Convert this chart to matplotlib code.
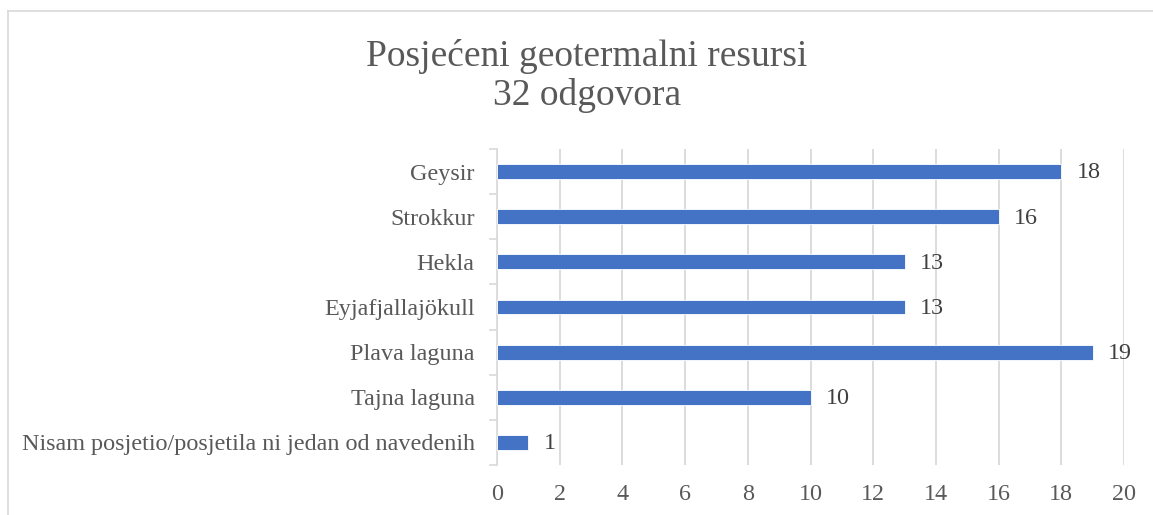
import numpy as np
import matplotlib.pyplot as plt
from matplotlib.lines import Line2D

# podaci
kategorije = ['Geysir', 'Strokkur', 'Hekla', 'Eyjafjallajökull', 'Plava laguna',
              'Tajna laguna', 'Nisam posjetio/posjetila ni jedan od navedenih']
odgovori = [18, 16, 13, 13, 19, 10, 1]
x_ticks = [0, 2, 4, 6, 8, 10, 12, 14, 16, 18, 20]

plt.rcParams['font.family'] = ['Liberation Serif', 'DejaVu Serif']
tekst = '#595959'
siva = '#D9D9D9'
fs = 17.4

fig = plt.figure(figsize=(11.53, 5.15), dpi=100)
ax = fig.add_axes([497 / 1153, 1 - 465 / 515, (1124 - 497) / 1153, (465 - 149) / 515])

y = np.arange(len(kategorije))
ax.barh(y, odgovori, height=0.33, color='#4472C4', edgecolor='white', linewidth=0.6, zorder=3)
for yi, v in zip(y, odgovori):
    ax.text(v + 0.5, yi + 0.03, str(v), va='center', ha='left', fontsize=fs, color='#404040')

ax.set_ylim(len(kategorije) - 0.5, -0.5)
ax.set_xlim(0, 20)
ax.set_xticks(x_ticks)
ax.set_xticklabels([str(t) for t in x_ticks], fontsize=fs, color=tekst)
ax.set_yticks(y)
ax.set_yticklabels(kategorije, fontsize=fs, color=tekst)
ax.tick_params(axis='y', length=0, pad=16)
ax.tick_params(axis='x', length=0, pad=14)
# rubne oznake kategorija (Excel stil)
ax.set_yticks(np.arange(-0.5, len(kategorije)), minor=True)
ax.tick_params(axis='y', which='minor', length=6, color=siva, width=1.2)

ax.grid(axis='x', color=siva, linewidth=1.3, zorder=0)
for s in ['top', 'right', 'bottom']:
    ax.spines[s].set_visible(False)
ax.spines['left'].set_color(siva)
ax.spines['left'].set_linewidth(1.2)

fig.text(587 / 1153, 1 - 76 / 515, 'Posjećeni geotermalni resursi\n32 odgovora',
         ha='center', va='center', fontsize=27, color=tekst, linespacing=1.12)

# okvir grafikona
fig.add_artist(Line2D([8 / 1153, 1], [1 - 11 / 515, 1 - 11 / 515], color=siva, linewidth=1.2))
fig.add_artist(Line2D([8 / 1153, 8 / 1153], [0, 1 - 11 / 515], color=siva, linewidth=1.2))

plt.savefig('out.png', dpi=100)
